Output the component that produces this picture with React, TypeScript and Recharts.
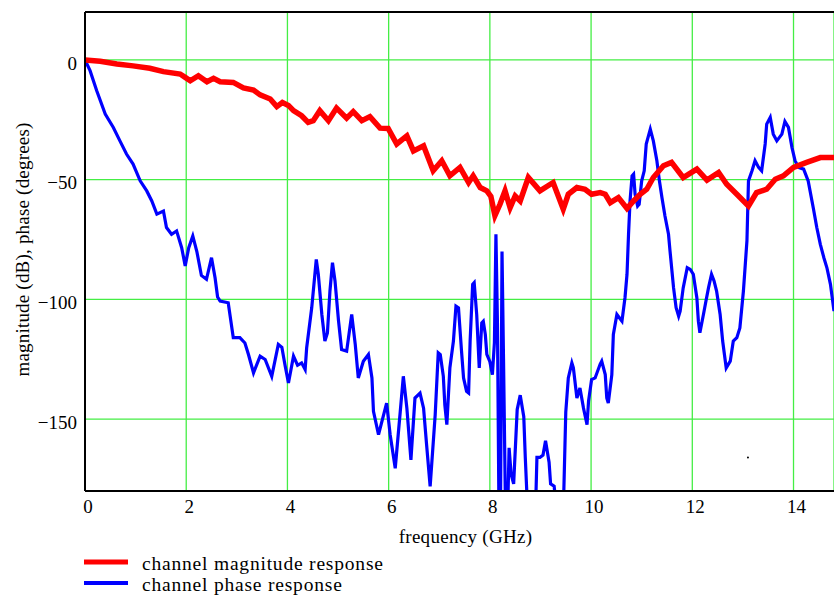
import React from 'react';
import { LineChart, Line, XAxis, YAxis, CartesianGrid, ReferenceLine, ReferenceDot, Label } from 'recharts';

// frequency axis (GHz) and level axis (dB / degrees)
const freqTicks = [0, 2, 4, 6, 8, 10, 12, 14];
const levelTicks = [-150, -100, -50, 0];

// channel magnitude response (dB)
const magFreq = [
  0, 0.3, 0.63, 0.95, 1.28, 1.55, 1.88, 1.98, 2.08, 2.24, 2.41, 2.54, 2.67, 2.93, 3.13, 3.33, 3.46, 3.66,
  3.79, 3.9, 4.02, 4.12, 4.28, 4.41, 4.51, 4.64, 4.81, 4.97, 5.17, 5.3, 5.47, 5.63, 5.83, 5.99, 6.16,
  6.36, 6.49, 6.69, 6.88, 7.05, 7.21, 7.41, 7.58, 7.67, 7.81, 7.94, 8.02, 8.1, 8.2, 8.3, 8.4, 8.5, 8.6,
  8.76, 8.99, 9.25, 9.45, 9.55, 9.72, 9.88, 10.01, 10.18, 10.28, 10.38, 10.54, 10.71, 10.84, 10.97,
  11.1, 11.23, 11.43, 11.59, 11.82, 12.09, 12.29, 12.52, 12.68, 12.88, 13.11, 13.27, 13.47, 13.64,
  13.8, 14.0, 14.26, 14.53, 14.8,
];
const magDb = [
  0, -0.6, -1.7, -2.5, -3.5, -4.9, -5.9, -7.3, -8.7, -6.6, -9.1, -7.7, -9.1, -9.4, -11.7, -12.6, -14.6, -16.3,
  -19.5, -17.8, -19, -21.2, -23.3, -26.1, -25.4, -21.2, -25.4, -20.1, -24.3, -21.6, -25.4, -23.7, -28.5, -28.6, -35.1,
  -31.7, -38, -35.9, -46.3, -42.1, -48.4, -44.9, -51.2, -48.4, -53.3, -54.7, -57, -65, -60.3, -54.7, -61.7, -56.8, -58.9,
  -49.1, -54.7, -51.2, -62.3, -56.1, -53.3, -54, -56.1, -55.4, -56.1, -59.6, -57.5, -62, -58.9, -56.1,
  -54, -49.1, -44.2, -42.8, -49.1, -45.6, -50.2, -47, -51.9, -56.1, -61, -55.4, -54, -49.8,
  -48.4, -44.9, -42.8, -40.8, -40.8,
];

// channel phase response (degrees)
const phaseFreq = [
  0, 0.1, 0.23, 0.4, 0.56, 0.69, 0.82, 0.95, 1.09, 1.22, 1.32, 1.42, 1.55, 1.61, 1.71, 1.81, 1.91, 1.98,
  2.05, 2.13, 2.21, 2.3, 2.4, 2.5, 2.57, 2.62, 2.67, 2.83, 2.93, 3.06, 3.16, 3.23, 3.33, 3.46, 3.56,
  3.69, 3.82, 3.89, 3.95, 4.02, 4.12, 4.2, 4.28, 4.35, 4.38, 4.48, 4.57, 4.61, 4.68, 4.74, 4.79, 4.84,
  4.89, 4.94, 5.01, 5.07, 5.17, 5.27, 5.34, 5.4, 5.5, 5.6, 5.67, 5.7, 5.8, 5.96, 6.03, 6.13, 6.23,
  6.29, 6.36, 6.44, 6.52, 6.62, 6.69, 6.75, 6.82, 6.92, 6.98, 7.02, 7.08, 7.11, 7.15, 7.21, 7.28, 7.33,
  7.38, 7.44, 7.48, 7.54, 7.58, 7.61, 7.66, 7.69, 7.74, 7.79, 7.84, 7.87, 7.91, 7.94, 8.0, 8.05, 8.09,
  8.12, 8.15, 8.18, 8.21, 8.24, 8.27, 8.31, 8.35, 8.38, 8.42, 8.47, 8.54, 8.6, 8.67, 8.7, 8.75, 8.9,
  8.93, 8.99, 9.05, 9.1, 9.17, 9.2, 9.27, 9.33, 9.45, 9.5, 9.55, 9.62, 9.65, 9.72, 9.78, 9.85, 9.92,
  9.95, 10.01, 10.08, 10.18, 10.21, 10.28, 10.31, 10.34, 10.41, 10.44, 10.51, 10.61, 10.67, 10.71,
  10.74, 10.77, 10.81, 10.84, 10.87, 10.92, 10.95, 11.0, 11.05, 11.09, 11.17, 11.23, 11.3, 11.35,
  11.4, 11.46, 11.53, 11.56, 11.63, 11.68, 11.73, 11.76, 11.82, 11.9, 11.96, 12.02, 12.09, 12.12,
  12.15, 12.22, 12.27, 12.32, 12.38, 12.43, 12.48, 12.55, 12.6, 12.67, 12.75, 12.81, 12.88, 12.94,
  13.01, 13.08, 13.11, 13.18, 13.24, 13.31, 13.37, 13.44, 13.47, 13.54, 13.6, 13.67, 13.77, 13.83,
  13.9, 13.97, 14.03, 14.1, 14.2, 14.29, 14.39, 14.46, 14.53, 14.6, 14.66, 14.73, 14.8,
];
const phaseDeg = [
  0, -4.5, -12.8, -22.6, -28.2, -33.8, -39.3, -43.5, -50.5, -54.7, -58.9, -64.4, -63.1, -70, -72.8, -71.4, -78.4, -86,
  -78.4, -73.5, -80, -90, -91.6, -82.6, -91, -99, -100.7, -101.4, -116, -116, -118.2, -123, -130.7, -123.7, -125.1,
  -132.1, -118.8, -120, -127.2, -134.9, -123.7, -127.5, -126.5, -129.3, -120.2, -103.5, -83.3, -89.5, -106.3, -117.4, -114, -96.5,
  -84.7, -92.3, -109.1, -120.9, -121.6, -106.3, -118.8, -132.8, -125.8, -123, -132.8, -146.7, -156.5, -143.3, -156.5, -170.5, -146.7,
  -132.1, -145.4, -167, -141.2, -139.1, -145.4, -160.7, -178.1, -148.1, -122.3, -123, -132, -144, -152.3, -128.6, -117.4, -102.8,
  -103.5, -121.6, -132.8, -138.4, -139.1, -117.4, -93.7, -93, -106.3, -128.6, -109.8, -109.1, -114.6, -123, -126, -131.4, -118,
  -72.8, -110, -190, -190, -80, -125, -190, -190, -162, -173, -177, -146, -140, -149, -166, -190, -190,
  -166, -166, -165, -159, -168, -177, -178, -190, -190, -147, -132.8, -126.5, -128.6, -141.2, -137, -145.4, -152.3,
  -142.5, -133.5, -132.8, -127, -125.8, -131.4, -141.2, -143.3, -131.4, -114.6, -106.3, -109.1, -99.3, -89.5,
  -72.8, -58.9, -48.4, -47.7, -56.1, -61, -60.3, -50.5, -46.3, -35.1, -28.9, -33.8, -42.1, -50.5,
  -57.5, -65.2, -72.8, -79.8, -95.2, -103.5, -107, -104.9, -95.2, -86.8, -87.5, -89.5, -99.3, -109.1,
  -113.9, -106.3, -100.7, -95.2, -89.5, -92.3, -96.5, -106.3, -117.4, -128.6, -125.8, -117.4, -116, -111.9,
  -96.5, -75.5, -50.5, -46.3, -42.1, -44.9, -46.3, -35.1, -26.8, -24, -31, -33.8, -31, -25.7,
  -28.2, -36.6, -42.1, -44.9, -45.6, -50.5, -61.7, -70, -77, -82.6, -86.8, -93.7, -104.9,
];

const seriesNames = ['channel magnitude response', 'channel phase response'];
const seriesColors = ['#ff0000', '#0000ff'];

const magData = magFreq.map((f, i) => ({ f, mag: magDb[i] }));
const phaseData = phaseFreq.map((f, i) => ({ f, phase: phaseDeg[i] }));

const font = '"Liberation Serif", "Times New Roman", serif';
const tickStyle = { fontSize: 19, fill: '#000', fontFamily: font };

const fmtLevel = (v: number) => (v < 0 ? '\u2212' + Math.abs(v) : String(v));

const App: React.FC = () => {
  return (
    <div style={{ position: 'absolute', left: 0, top: 0, width: 834, height: 596, background: '#fff' }}>
      <LineChart width={834} height={596} margin={{ top: 12, right: 0, left: 0, bottom: 0 }}>
        <CartesianGrid stroke="#44ee44" strokeWidth={1.3} />
        <XAxis
          type="number"
          dataKey="f"
          domain={[0, 14.8]}
          ticks={freqTicks}
          allowDataOverflow
          height={105}
          tickLine={false}
          tickSize={0}
          tickMargin={9}
          axisLine={{ stroke: '#000', strokeWidth: 2 }}
          tick={{ ...tickStyle, dx: 3 }}
        >
          <Label
            content={({ viewBox }: any) => (
              <text x={viewBox.x + viewBox.width / 2 + 6} y={viewBox.y + 52} textAnchor="middle"
                style={{ fontSize: 19, fontFamily: font, fill: '#000', letterSpacing: 0.3 }}>
                frequency (GHz)
              </text>
            )}
          />
        </XAxis>
        <YAxis
          type="number"
          domain={[-180, 20]}
          ticks={levelTicks}
          allowDataOverflow
          width={85}
          tickLine={false}
          tickSize={0}
          tickMargin={8}
          tickFormatter={fmtLevel}
          axisLine={{ stroke: '#000', strokeWidth: 2 }}
          tick={{ ...tickStyle, dy: 3 }}
        >
          <Label
            content={({ viewBox }: any) => {
              const cx = viewBox.x + 22;
              const cy = viewBox.y + viewBox.height / 2 - 2;
              return (
                <text x={cx} y={cy} textAnchor="middle" dominantBaseline="central"
                  transform={`rotate(-90, ${cx}, ${cy})`}
                  style={{ fontSize: 19, fontFamily: font, fill: '#000', letterSpacing: 0.2 }}>
                  magnitude (dB), phase (degrees)
                </text>
              );
            }}
          />
        </YAxis>
        <ReferenceLine y={20} stroke="#000" strokeWidth={2} />
        <ReferenceDot x={13.1} y={-166} r={1} fill="#000" stroke="none" />
        <Line data={phaseData} dataKey="phase" name={seriesNames[1]} type="linear" stroke={seriesColors[1]}
          strokeWidth={3.2} dot={false} isAnimationActive={false} />
        <Line data={magData} dataKey="mag" name={seriesNames[0]} type="linear" stroke={seriesColors[0]}
          strokeWidth={5.5} dot={false} isAnimationActive={false} />
      </LineChart>
      <svg width={834} height={596} style={{ position: 'absolute', left: 0, top: 0, pointerEvents: 'none' }}>
        {seriesNames.map((name, i) => (
          <g key={name}>
            <line x1={84} x2={128} y1={562 + i * 21} y2={562 + i * 21} stroke={seriesColors[i]}
              strokeWidth={i === 0 ? 5 : 4} />
            <text x={142} y={570 + i * 21}
              style={{ fontSize: 19.5, fontFamily: font, fill: '#000', letterSpacing: 0.8 }}>
              {name}
            </text>
          </g>
        ))}
      </svg>
    </div>
  );
};

export default App;
